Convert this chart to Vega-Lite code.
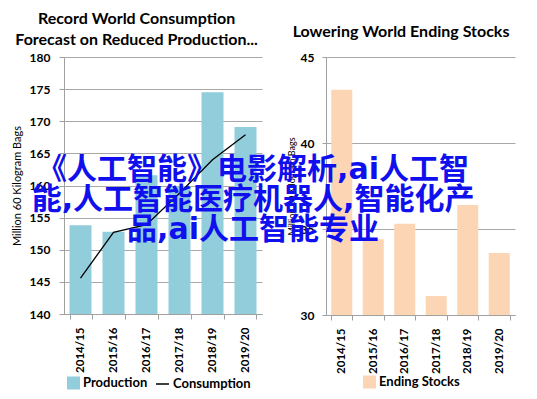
{
  "$schema": "https://vega.github.io/schema/vega-lite/v6.json",
  "background": "white",
  "autosize": "none",
  "padding": {"left": 64, "top": 57, "right": 473, "bottom": 342},
  "config": {
    "view": {"stroke": null},
    "font": "Lato",
    "axis": {"labelFont": "Lato", "labelFontWeight": "bold", "labelFontSize": 12, "labelColor": "black", "labelOverlap": false, "domainColor": "#A0A0A0", "tickColor": "#A0A0A0", "gridColor": "#A8A8A8", "tickSize": 5, "titleFont": "Lato", "titleColor": "black", "titleFontWeight": "normal"},
    "legend": {"labelFont": "Lato", "labelFontWeight": "bold", "labelFontSize": 13, "labelColor": "black", "labelOffset": 3, "padding": 0, "orient": "none", "title": null}
  },
  "data": {"values": [
    {"year": "2014/15", "production": 153.8, "consumption": 145.6, "stocks": 43.1},
    {"year": "2015/16", "production": 152.8, "consumption": 152.7, "stocks": 34.4},
    {"year": "2016/17", "production": 161.6, "consumption": 153.9, "stocks": 35.3},
    {"year": "2017/18", "production": 159.9, "consumption": 158.8, "stocks": 31.1},
    {"year": "2018/19", "production": 174.5, "consumption": 164.0, "stocks": 36.4},
    {"year": "2019/20", "production": 169.1, "consumption": 167.9, "stocks": 33.6}
  ]},
  "title": {
    "text": ["《人工智能》电影解析,ai人工智", "能,人工智能医疗机器人,智能化产", "品,ai人工智能专业"],
    "font": "DejaVu Sans, Noto Sans CJK SC", "fontSize": 30, "fontWeight": "bold", "color": "#1010EE",
    "lineHeight": 30, "anchor": "middle", "frame": "bounds", "baseline": "middle",
    "dx": -10, "dy": 248.5, "offset": 0
  },
  "bounds": "flush",
  "spacing": 64,
  "resolve": {"scale": {"x": "independent", "y": "independent", "fill": "independent", "stroke": "independent"}, "legend": {"fill": "independent", "stroke": "independent"}},
  "hconcat": [
    {
      "width": 198, "height": 257,
      "title": {"text": ["Record World Consumption", "Forecast on Reduced Production..."], "font": "Lato", "fontSize": 16, "fontWeight": "bold", "color": "black", "lineHeight": 21, "anchor": "middle", "frame": "bounds", "offset": 3},
      "encoding": {
        "x": {"field": "year", "type": "nominal", "sort": null,
          "scale": {"paddingInner": 0.333, "paddingOuter": 0.1667},
          "axis": {"title": null, "labelAngle": -90, "labelPadding": 8, "tickBand": "extent", "labelFontSize": 11.5}}
      },
      "layer": [
        {
          "mark": {"type": "bar", "color": "#92CDDC"},
          "encoding": {
            "y": {"field": "production", "type": "quantitative",
              "scale": {"domain": [140, 180], "nice": false, "zero": false},
              "axis": {"title": "Million 60 Kilogram Bags", "titleFontSize": 11, "titlePadding": 7, "labelPadding": 9, "values": [140, 145, 150, 155, 160, 165, 170, 175, 180], "tickCount": 9, "grid": true}},
            "y2": {"datum": 140},
            "fill": {"datum": "Production", "scale": {"range": ["#92CDDC"]},
              "legend": {"symbolType": "square", "symbolSize": 169, "symbolStrokeWidth": 0, "legendX": 3, "legendY": 319.5}}
          }
        },
        {
          "mark": {"type": "line", "color": "black", "strokeWidth": 1.3},
          "encoding": {
            "y": {"field": "consumption", "type": "quantitative",
              "scale": {"domain": [140, 180], "nice": false, "zero": false},
              "axis": {"title": "Million 60 Kilogram Bags", "titleFontSize": 11, "titlePadding": 7, "labelPadding": 9, "values": [140, 145, 150, 155, 160, 165, 170, 175, 180], "tickCount": 9, "grid": true}},
            "stroke": {"datum": "Consumption", "scale": {"range": ["black"]},
              "legend": {"symbolType": "stroke", "symbolSize": 169, "symbolStrokeWidth": 1.5, "legendX": 91, "legendY": 319.5}}
          }
        }
      ]
    },
    {
      "width": 189, "height": 258,
      "title": {"text": "Lowering World Ending Stocks", "font": "Lato", "fontSize": 16, "fontWeight": "bold", "color": "black", "anchor": "middle", "frame": "bounds", "offset": 11},
      "mark": {"type": "bar", "color": "#FCD5B5"},
      "encoding": {
        "x": {"field": "year", "type": "nominal", "sort": null,
          "scale": {"paddingInner": 0.333, "paddingOuter": 0.1667},
          "axis": {"title": null, "labelAngle": -90, "labelPadding": 8, "tickBand": "extent", "labelFontSize": 11.5}},
        "y": {"field": "stocks", "type": "quantitative",
          "scale": {"domain": [30, 45], "nice": false, "zero": false},
          "axis": {"title": "Million 60 Kilogram Bags", "titleFontSize": 9, "titlePadding": 4, "labelPadding": 8, "tickSize": 4, "values": [30, 35, 40, 45], "tickCount": 4, "grid": true}},
        "y2": {"datum": 30},
        "fill": {"datum": "Ending Stocks", "scale": {"range": ["#FCD5B5"]},
          "legend": {"symbolType": "square", "symbolSize": 169, "symbolStrokeWidth": 0, "legendX": 37, "legendY": 318.5}}
      }
    }
  ]
}
